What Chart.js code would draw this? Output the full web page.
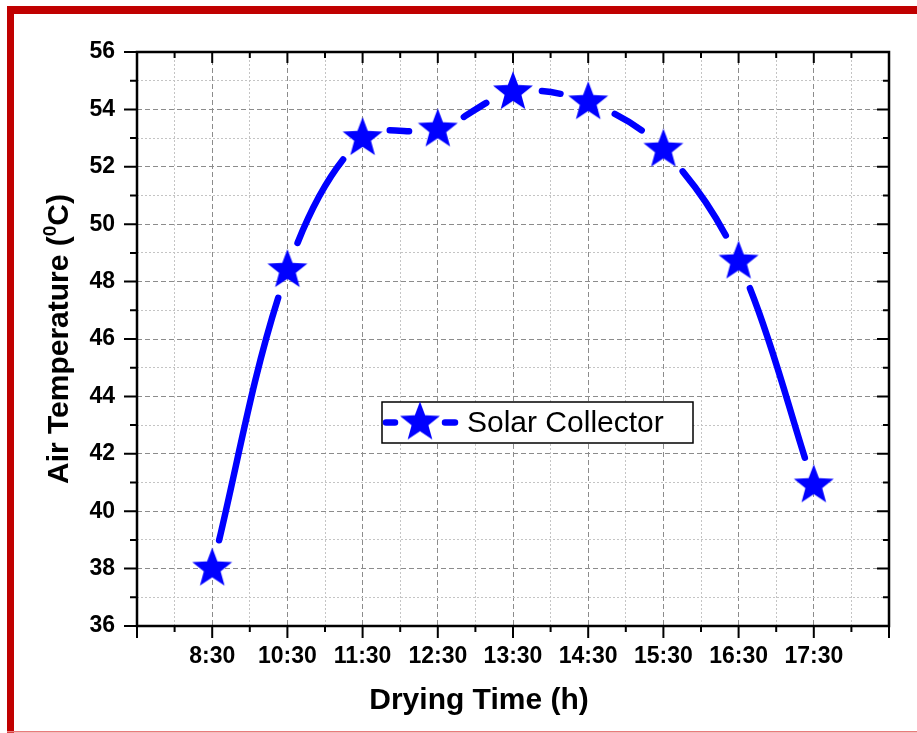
<!DOCTYPE html>
<html>
<head>
<meta charset="utf-8">
<script src="https://cdn.jsdelivr.net/npm/chart.js@4.4.1/dist/chart.umd.min.js"></script>
<style>
  html, body { margin: 0; padding: 0; background: #fff; }
  canvas { display: block; }
</style>
</head>
<body>
<canvas id="chart" width="917" height="733"></canvas>
<script>
// data
const dryingTimes = ["8:30", "10:30", "11:30", "12:30", "13:30", "14:30", "15:30", "16:30", "17:30"];
const airTemp = [38.0, 48.4, 53.0, 53.3, 54.6, 54.25, 52.6, 48.7, 40.9];
const seriesName = "Solar Collector";
const xTitle = "Drying Time (h)";
const yTitle = ["Air Temperature (", "0", "C)"];

const yMin = 36, yMax = 56;
const BLUE = "#0000ff";
const FONT = "'Liberation Sans', Arial, sans-serif";
const GAP = 29; // space left round each star, like origin does

function makeStar(r, color) {
  const s = Math.ceil(r * 2 + 2);
  const c = document.createElement("canvas");
  c.width = s; c.height = s;
  const g = c.getContext("2d");
  g.fillStyle = color;
  g.beginPath();
  for (let i = 0; i < 10; i++) {
    const rr = i % 2 ? r * 0.42 : r;
    const a = -Math.PI / 2 + i * Math.PI / 5;
    g.lineTo(s / 2 + rr * Math.cos(a), s / 2 + rr * Math.sin(a));
  }
  g.closePath();
  g.fill();
  return c;
}
const star = makeStar(21, BLUE);

// length of one piece of the curve (bezier if the control points are there)
function segLen(p0, p1) {
  if (isFinite(p0.cp2x) && isFinite(p1.cp1x)) {
    let len = 0, px = p0.x, py = p0.y;
    for (let i = 1; i <= 30; i++) {
      const t = i / 30, u = 1 - t;
      const x = u*u*u*p0.x + 3*u*u*t*p0.cp2x + 3*u*t*t*p1.cp1x + t*t*t*p1.x;
      const y = u*u*u*p0.y + 3*u*u*t*p0.cp2y + 3*u*t*t*p1.cp1y + t*t*t*p1.y;
      len += Math.hypot(x - px, y - py);
      px = x; py = y;
    }
    return len;
  }
  return Math.hypot(p1.x - p0.x, p1.y - p0.y);
}

const framePlugin = {
  id: "frame",
  beforeDraw(chart) {
    const ctx = chart.ctx;
    ctx.save();
    ctx.fillStyle = "#fff";
    ctx.fillRect(0, 0, chart.width, chart.height);
    ctx.restore();
  },
  afterDraw(chart) {
    const ctx = chart.ctx;
    const xs = chart.scales.x, ys = chart.scales.y;
    const L = xs.left, R = xs.right, T = ys.top, B = ys.bottom;
    ctx.save();

    // axis box
    ctx.strokeStyle = "#000";
    ctx.lineWidth = 2.5;
    ctx.strokeRect(L, T, R - L, B - T);

    // ticks
    ctx.lineWidth = 2;
    ctx.beginPath();
    for (let v = 0; v <= 10; v += 0.5) {
      const px = xs.getPixelForValue(v);
      const major = v % 1 === 0;
      ctx.moveTo(px, B); ctx.lineTo(px, B + (major ? 12 : 6));
      ctx.moveTo(px, T); ctx.lineTo(px, T + (major ? 11 : 6));
    }
    for (let v = yMin; v <= yMax; v += 1) {
      const py = ys.getPixelForValue(v);
      const major = v % 2 === 0;
      ctx.moveTo(L - (major ? 13 : 7), py); ctx.lineTo(L, py);
      ctx.moveTo(R - (major ? 12 : 6), py); ctx.lineTo(R, py);
    }
    ctx.stroke();

    // titles
    ctx.fillStyle = "#000";
    ctx.font = "bold 30px " + FONT;
    ctx.textAlign = "center";
    ctx.textBaseline = "alphabetic";
    ctx.fillText(xTitle, 479, 709);

    ctx.save();
    ctx.translate(68, (T + B) / 2);
    ctx.rotate(-Math.PI / 2);
    ctx.textAlign = "left";
    const big = "bold 30px " + FONT, small = "bold 19px " + FONT;
    ctx.font = big;
    const w0 = ctx.measureText(yTitle[0]).width;
    const w2 = ctx.measureText(yTitle[2]).width;
    ctx.font = small;
    const w1 = ctx.measureText(yTitle[1]).width;
    let x = -(w0 + w1 + w2) / 2;
    ctx.font = big;
    ctx.fillText(yTitle[0], x, 0); x += w0;
    ctx.font = small;
    ctx.fillText(yTitle[1], x, -12); x += w1;
    ctx.font = big;
    ctx.fillText(yTitle[2], x, 0);
    ctx.restore();

    // legend
    const lx = 382, ly = 402, lw = 311, lh = 41, cy = ly + lh / 2;
    ctx.fillStyle = "#fff";
    ctx.fillRect(lx, ly, lw, lh);
    ctx.strokeStyle = "#000";
    ctx.lineWidth = 1.5;
    ctx.strokeRect(lx, ly, lw, lh);
    ctx.strokeStyle = BLUE;
    ctx.lineWidth = 6.5;
    ctx.lineCap = "round";
    ctx.beginPath();
    ctx.moveTo(386, cy); ctx.lineTo(395, cy);
    ctx.moveTo(445, cy); ctx.lineTo(455, cy);
    ctx.stroke();
    ctx.drawImage(star, 420 - star.width / 2, cy - star.height / 2);
    ctx.fillStyle = "#000";
    ctx.font = "30px " + FONT;
    ctx.textAlign = "left";
    ctx.textBaseline = "middle";
    ctx.fillText(chart.data.datasets[0].label, 467, cy + 1);

    // red frame
    ctx.fillStyle = "#c00000";
    ctx.fillRect(7, 6, chart.width - 7, 8);
    ctx.fillRect(7, 6, 7, chart.height - 6);
    ctx.fillStyle = "#e87c7c";
    ctx.fillRect(7, chart.height - 2, chart.width - 7, 1.5);
    ctx.restore();
  }
};

new Chart(document.getElementById("chart"), {
  type: "line",
  data: {
    datasets: [{
      label: seriesName,
      data: airTemp.map((v, i) => ({ x: i + 1, y: v })),
      borderColor: BLUE,
      backgroundColor: BLUE,
      borderWidth: 6.5,
      borderCapStyle: "round",
      tension: 0.35,
      pointStyle: star,
      pointRadius: 21,
      pointHoverRadius: 21,
      segment: {
        borderDash: c => [Math.max(segLen(c.p0, c.p1) - 2 * GAP, 0.5), 5000],
        borderDashOffset: -GAP
      }
    }]
  },
  options: {
    responsive: false,
    animation: false,
    events: [],
    layout: { padding: { top: 52, right: 28, left: 0, bottom: 0 } },
    plugins: { legend: { display: false }, tooltip: { enabled: false } },
    scales: {
      x: {
        type: "linear", position: "bottom", min: 0, max: 10,
        afterFit: s => { s.height = 107; },
        border: { display: false, dash: [5, 3] },
        grid: { drawTicks: false, color: "#8c8c8c", lineWidth: 1 },
        ticks: {
          stepSize: 1, autoSkip: false, maxRotation: 0, padding: 17,
          color: "#000", font: { family: FONT, size: 23, weight: "bold" },
          callback: v => (v >= 1 && v <= dryingTimes.length && v % 1 === 0) ? dryingTimes[v - 1] : ""
        }
      },
      x2: {
        type: "linear", position: "top", min: 0, max: 10,
        afterFit: s => { s.height = 0; },
        border: { display: false, dash: [2, 2] },
        grid: { drawTicks: false, lineWidth: 1,
          color: c => (c.tick && c.tick.value % 1 === 0) ? "rgba(0,0,0,0)" : "#c4c4c4" },
        ticks: { display: false, stepSize: 0.5, maxTicksLimit: 40 }
      },
      y: {
        type: "linear", position: "left", min: yMin, max: yMax,
        afterFit: s => { s.width = 137; },
        border: { display: false, dash: [5, 3] },
        grid: { drawTicks: false, color: "#8c8c8c", lineWidth: 1 },
        ticks: {
          stepSize: 2, padding: 22,
          color: "#000", font: { family: FONT, size: 23, weight: "bold" }
        }
      },
      y2: {
        type: "linear", position: "right", min: yMin, max: yMax,
        afterFit: s => { s.width = 0; },
        border: { display: false, dash: [2, 2] },
        grid: { drawTicks: false, lineWidth: 1,
          color: c => (c.tick && c.tick.value % 2 === 0) ? "rgba(0,0,0,0)" : "#c4c4c4" },
        ticks: { display: false, stepSize: 1, maxTicksLimit: 40 }
      }
    }
  },
  plugins: [framePlugin]
});
</script>
</body>
</html>
